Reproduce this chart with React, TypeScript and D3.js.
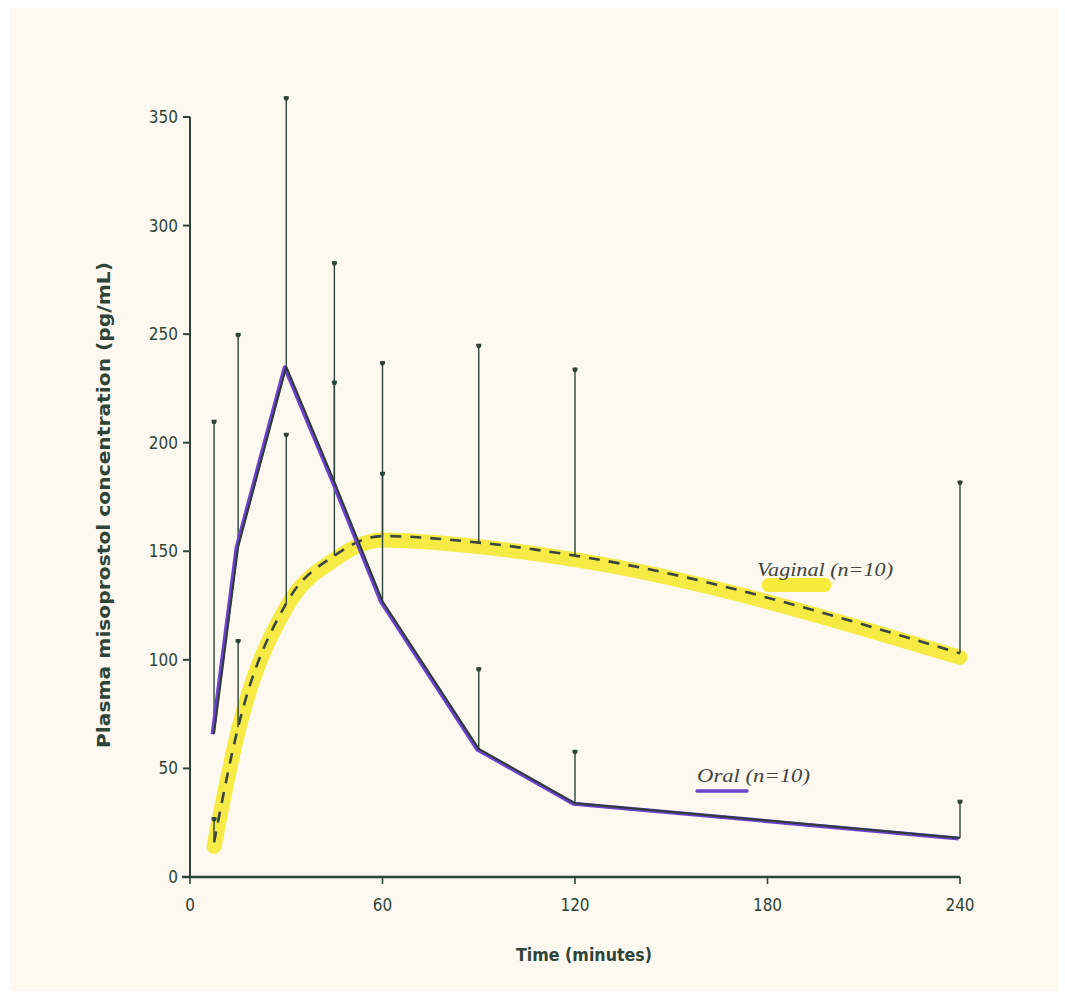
import React from "react";
import * as d3 from "d3";

const times = [7.5, 15, 30, 45, 60, 90, 120, 240];
const oralMean = [66, 152, 235, 182, 127, 59, 34, 18];
const oralUpper = [210, 250, 359, 283, 186, 96, 58, 35];
const vaginalMean = [16, 69, 126, 148, 157, 154, 148, 103];
const vaginalUpper = [27, 109, 204, 228, 237, 245, 234, 182];
const xTicks = [0, 60, 120, 180, 240];
const yTicks = [0, 50, 100, 150, 200, 250, 300, 350];

const W = 1065;
const H = 998;
const x = d3.scaleLinear().domain([0, 240]).range([190, 960]);
const y = d3.scaleLinear().domain([0, 350]).range([877, 117]);

const ink = "#2f4438";
const condensed = "'DejaVu Sans Condensed', 'Liberation Sans Narrow', 'DejaVu Sans', sans-serif";

export default function App() {
  const oralPts: [number, number][] = times.map((t, i) => [t, oralMean[i]]);
  const vagPts: [number, number][] = times.map((t, i) => [t, vaginalMean[i]]);
  const linear = d3.line<[number, number]>().x(d => x(d[0])).y(d => y(d[1]));
  const smooth = d3
    .line<[number, number]>()
    .x(d => x(d[0]))
    .y(d => y(d[1]))
    .curve(d3.curveMonotoneX);

  const bars = [
    ...times.map((t, i) => ({ t, lo: oralMean[i], hi: oralUpper[i] })),
    ...times.map((t, i) => ({ t, lo: vaginalMean[i], hi: vaginalUpper[i] })),
  ];

  return (
    <svg
      width={W}
      height={H}
      style={{ position: "absolute", left: 0, top: 0, display: "block" }}
    >
      <rect x={0} y={0} width={W} height={H} fill="#ffffff" />
      <rect x={9} y={8} width={1048} height={983} fill="#fdf9f0" />

      {/* yellow highlight for vaginal */}
      <path
        d={smooth(vagPts) || ""}
        transform="translate(0,4)"
        fill="none"
        stroke="#f6ea3a"
        strokeWidth={15}
        strokeLinecap="round"
        strokeLinejoin="round"
        opacity={0.95}
      />

      {/* error bars */}
      {bars.map((b, i) => (
        <g key={i}>
          <line
            x1={x(b.t)}
            x2={x(b.t)}
            y1={y(b.lo)}
            y2={y(b.hi)}
            stroke={ink}
            strokeWidth={1.4}
          />
          <line
            x1={x(b.t) - 2.5}
            x2={x(b.t) + 2.5}
            y1={y(b.hi)}
            y2={y(b.hi)}
            stroke={ink}
            strokeWidth={2.5}
          />
          <circle cx={x(b.t)} cy={y(b.hi) + 1} r={2.3} fill={ink} />
        </g>
      ))}

      {/* vaginal dashed */}
      <path
        d={smooth(vagPts) || ""}
        fill="none"
        stroke="#3a4440"
        strokeWidth={2.6}
        strokeDasharray="11 9"
      />

      {/* oral purple and dark line */}
      <path
        d={linear(oralPts) || ""}
        transform="translate(-1.5,0.5)"
        fill="none"
        stroke="#6a43cc"
        strokeWidth={4}
        strokeLinejoin="round"
      />
      <path
        d={linear(oralPts) || ""}
        fill="none"
        stroke="#2f3b36"
        strokeWidth={2}
        strokeLinejoin="round"
      />

      {/* axes */}
      <line x1={x(0)} x2={x(0)} y1={y(0)} y2={y(350)} stroke={ink} strokeWidth={2} />
      <line x1={x(0) - 8} x2={x(240)} y1={y(0)} y2={y(0)} stroke={ink} strokeWidth={2.4} />
      {yTicks.map(v => (
        <g key={"y" + v}>
          <line x1={x(0) - 7} x2={x(0)} y1={y(v)} y2={y(v)} stroke={ink} strokeWidth={2} />
          <text
            x={x(0) - 12}
            y={y(v)}
            dy="0.35em"
            textAnchor="end"
            fontFamily={condensed}
            fontSize={17}
            fill={ink}
          >
            {v}
          </text>
        </g>
      ))}
      {xTicks.map(v => (
        <g key={"x" + v}>
          <line x1={x(v)} x2={x(v)} y1={y(0)} y2={y(0) + 7} stroke={ink} strokeWidth={1.6} />
          <text
            x={x(v)}
            y={y(0) + 34}
            textAnchor="middle"
            fontFamily={condensed}
            fontSize={17}
            fill={ink}
          >
            {v}
          </text>
        </g>
      ))}

      <text
        transform={`translate(110,${(262 + 748) / 2}) rotate(-90)`}
        textAnchor="middle"
        fontFamily={condensed}
        fontWeight="bold"
        fontSize={17}
        fill={ink}
        textLength={486}
        lengthAdjust="spacingAndGlyphs"
      >
        Plasma misoprostol concentration (pg/mL)
      </text>
      <text
        x={584}
        y={961}
        textAnchor="middle"
        fontFamily={condensed}
        fontWeight="bold"
        fontSize={18}
        fill={ink}
        textLength={136}
        lengthAdjust="spacingAndGlyphs"
      >
        Time (minutes)
      </text>

      {/* legend labels */}
      <rect x={762} y={578} width={69} height={14} rx={6} fill="#f6ea3a" />
      <text
        x={757}
        y={576}
        fontFamily="'Liberation Serif', serif"
        fontStyle="italic"
        fontSize={18}
        fill="#3f4542"
        textLength={136}
        lengthAdjust="spacingAndGlyphs"
      >
        Vaginal (n=10)
      </text>
      <text
        x={697}
        y={782}
        fontFamily="'Liberation Serif', serif"
        fontStyle="italic"
        fontSize={18}
        fill="#3f4542"
        textLength={113}
        lengthAdjust="spacingAndGlyphs"
      >
        Oral (n=10)
      </text>
      <line x1={697} x2={747} y1={791} y2={791} stroke="#6a43cc" strokeWidth={3.5} strokeLinecap="round" />
    </svg>
  );
}
